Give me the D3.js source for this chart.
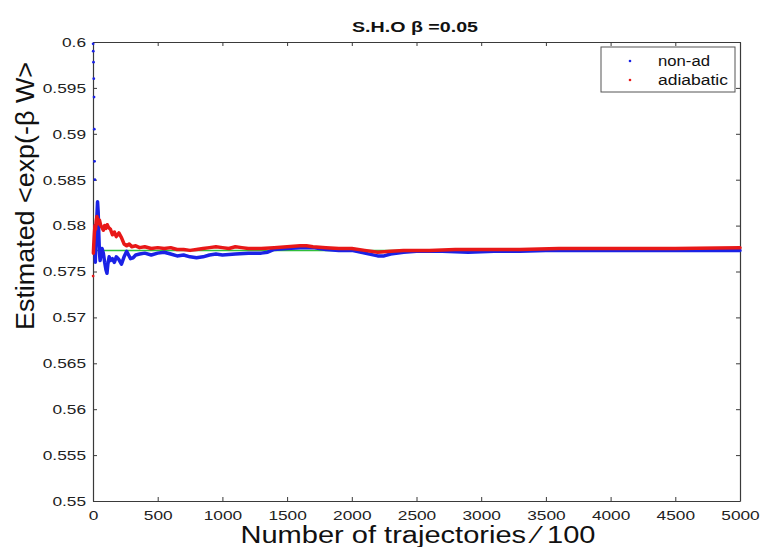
<!DOCTYPE html>
<html>
<head>
<meta charset="utf-8">
<script src="https://cdn.jsdelivr.net/npm/d3@7"></script>
<style>
  html, body { margin: 0; padding: 0; background: #fff; }
  svg { display: block; font-family: "Liberation Sans", Arial, sans-serif; }
</style>
</head>
<body>
<svg id="chart" width="761" height="547"></svg>
<script>
// ---- data ----
const titleText = "S.H.O \u03B2 =0.05";
const xLabel = "Number of trajectories \u2044 100";
const yLabel = "Estimated <exp(-\u03B2 W>";
const xTicks = [0, 500, 1000, 1500, 2000, 2500, 3000, 3500, 4000, 4500, 5000];
const yTicks = [0.55, 0.555, 0.56, 0.565, 0.57, 0.575, 0.58, 0.585, 0.59, 0.595, 0.6];
const seriesNames = ["non-ad", "adiabatic"];

const nonAdN = [1,2,4,6,8,10,12,14,16,18,20,25,30,35,40,45,50,55,60,70,80,90,100,108,115,125,135,150,165,180,200,220,240,260,275,290,310,330,360,400,450,500,550,600,650,700,750,800,850,900,950,1000,1100,1200,1300,1350,1400,1500,1600,1700,1800,1900,2000,2100,2200,2250,2300,2400,2500,2700,2900,3100,3300,3500,3800,4200,4600,5000];
const nonAdV = [0.5998,0.5990,0.5978,0.5960,0.5940,0.5905,0.5870,0.5850,0.5800,0.5760,0.5775,0.5790,0.5810,0.5826,0.5815,0.5790,0.5770,0.5762,0.5768,0.5775,0.5770,0.5760,0.5752,0.5748,0.5758,0.5766,0.5762,0.5764,0.5760,0.5766,0.5763,0.5758,0.5766,0.5772,0.5768,0.5764,0.5765,0.5768,0.5769,0.5770,0.5768,0.5770,0.5771,0.5769,0.5767,0.5768,0.5766,0.5765,0.5766,0.5768,0.5769,0.5768,0.5769,0.5770,0.5770,0.5771,0.5774,0.5775,0.5776,0.5776,0.5774,0.5773,0.5773,0.5770,0.5767,0.5767,0.5769,0.5771,0.5772,0.5772,0.5771,0.5772,0.5772,0.5773,0.5773,0.5773,0.5773,0.5773];

const adN = [1,3,6,10,15,20,25,30,35,40,50,60,70,80,90,100,110,120,135,150,165,180,200,220,240,260,280,300,330,360,400,450,500,550,600,650,700,750,800,850,900,950,1000,1050,1100,1150,1200,1300,1400,1500,1600,1650,1700,1800,1900,2000,2100,2200,2300,2400,2600,2800,3000,3300,3600,4000,4500,5000];
const adV = [0.5745,0.5770,0.5780,0.5790,0.5800,0.5796,0.5805,0.5810,0.5806,0.5802,0.5806,0.5800,0.5798,0.5795,0.5800,0.5797,0.5801,0.5798,0.5796,0.5790,0.5793,0.5788,0.5792,0.5787,0.5780,0.5778,0.5780,0.5777,0.5778,0.5776,0.5777,0.5775,0.5776,0.5775,0.5776,0.5774,0.5774,0.5773,0.5774,0.5775,0.5776,0.5777,0.5776,0.5775,0.5777,0.5776,0.5775,0.5775,0.5776,0.5777,0.5778,0.5778,0.5777,0.5776,0.5775,0.5775,0.5773,0.5771,0.5772,0.5773,0.5773,0.5774,0.5774,0.5774,0.5775,0.5775,0.5775,0.5776];

const exactValue = [0.5773];
const exactRange = [0, 5000];

// ---- layout ----
const svg = d3.select("#chart");
const m = { left: 93, top: 42, right: 740, bottom: 501 };
const x = d3.scaleLinear().domain([0, 5000]).range([m.left, m.right]);
const y = d3.scaleLinear().domain([0.55, 0.6]).range([m.bottom, m.top]);
const axisColor = "#3a3a3a";
const STRETCH = 1.28; // reference glyphs are horizontally wide

function stretch(sel, k) {
  sel.each(function () {
    const len = this.getComputedTextLength();
    d3.select(this).attr("textLength", len * k).attr("lengthAdjust", "spacingAndGlyphs");
  });
}
function fitTo(sel, w) {
  sel.attr("textLength", w).attr("lengthAdjust", "spacingAndGlyphs");
}

// axes
const gx = svg.append("g").attr("transform", `translate(0,${m.bottom})`)
  .call(d3.axisBottom(x).tickValues(xTicks).tickSizeInner(-4).tickSizeOuter(0).tickPadding(9).tickFormat(d3.format("d")));
const gxTop = svg.append("g").attr("transform", `translate(0,${m.top})`)
  .call(d3.axisTop(x).tickValues(xTicks).tickSizeInner(-4).tickSizeOuter(0).tickFormat(""));
const gy = svg.append("g").attr("transform", `translate(${m.left},0)`)
  .call(d3.axisLeft(y).tickValues(yTicks).tickSizeInner(-4).tickSizeOuter(0).tickPadding(7).tickFormat(d => String(+d.toFixed(3))));
const gyR = svg.append("g").attr("transform", `translate(${m.right},0)`)
  .call(d3.axisRight(y).tickValues(yTicks).tickSizeInner(-4).tickSizeOuter(0).tickFormat(""));

[gx, gxTop, gy, gyR].forEach(g => {
  g.selectAll("path.domain").attr("stroke", axisColor).attr("stroke-width", 1.2);
  g.selectAll(".tick line").attr("stroke", axisColor).attr("stroke-width", 1);
  g.selectAll(".tick text").attr("fill", "#222").style("font-size", "13.5px")
    .style("font-family", "'Liberation Sans', Arial, sans-serif");
});
gx.selectAll(".tick text").attr("dy", "0.71em");
stretch(gx.selectAll(".tick text"), STRETCH);
stretch(gy.selectAll(".tick text"), STRETCH);

// series
const line = d3.line().x(d => x(d[0])).y(d => y(d[1]));
const nonAd = nonAdN.map((n, i) => [n, nonAdV[i]]);
const ad = adN.map((n, i) => [n, adV[i]]);
const dotCut = 15;

svg.append("path").datum(exactRange.map(n => [n, exactValue[0]]))
  .attr("d", line).attr("fill", "none").attr("stroke", "#2fbf3a").attr("stroke-width", 1.5);

svg.append("path").datum(nonAd.filter(d => d[0] >= dotCut)).attr("d", line).attr("fill", "none")
  .attr("stroke", "#1a22e6").attr("stroke-width", 3.5).attr("stroke-linejoin", "round").attr("stroke-linecap", "round");
svg.selectAll("circle.na").data(nonAd.filter(d => d[0] < dotCut)).join("circle").attr("class", "na")
  .attr("cx", d => x(d[0])).attr("cy", d => y(d[1])).attr("r", 1.4).attr("fill", "#1a22e6");

svg.append("path").datum(ad.filter(d => d[0] >= 3)).attr("d", line).attr("fill", "none")
  .attr("stroke", "#e81818").attr("stroke-width", 3.5).attr("stroke-linejoin", "round").attr("stroke-linecap", "round");
svg.selectAll("circle.ad").data(ad.filter(d => d[0] < 3)).join("circle").attr("class", "ad")
  .attr("cx", d => x(d[0])).attr("cy", d => y(d[1])).attr("r", 1.4).attr("fill", "#e81818");

// title
fitTo(svg.append("text").attr("x", 415).attr("y", 32).attr("text-anchor", "middle")
  .style("font-size", "14.5px").style("font-weight", "bold").attr("fill", "#111").text(titleText), 126);

// axis labels
fitTo(svg.append("text").attr("x", 418).attr("y", 543).attr("text-anchor", "middle")
  .style("font-size", "23px").attr("fill", "#111").text(xLabel), 355);
fitTo(svg.append("text").attr("transform", "translate(34,196) scale(1.1,1) rotate(-90)").attr("text-anchor", "middle")
  .style("font-size", "23px").attr("fill", "#111").text(yLabel), 268);

// legend
const lg = svg.append("g");
lg.append("rect").attr("x", 601).attr("y", 47).attr("width", 134).attr("height", 45)
  .attr("fill", "#fff").attr("stroke", "#555").attr("stroke-width", 1);
const legColors = ["#1a22e6", "#e81818"];
const legW = [52, 70];
seriesNames.forEach((s, i) => {
  lg.append("circle").attr("cx", 630).attr("cy", 61 + i * 19).attr("r", 1.3).attr("fill", legColors[i]);
  fitTo(lg.append("text").attr("x", 658).attr("y", 66 + i * 19).style("font-size", "14px").attr("fill", "#111").text(s), legW[i]);
});
</script>
</body>
</html>
